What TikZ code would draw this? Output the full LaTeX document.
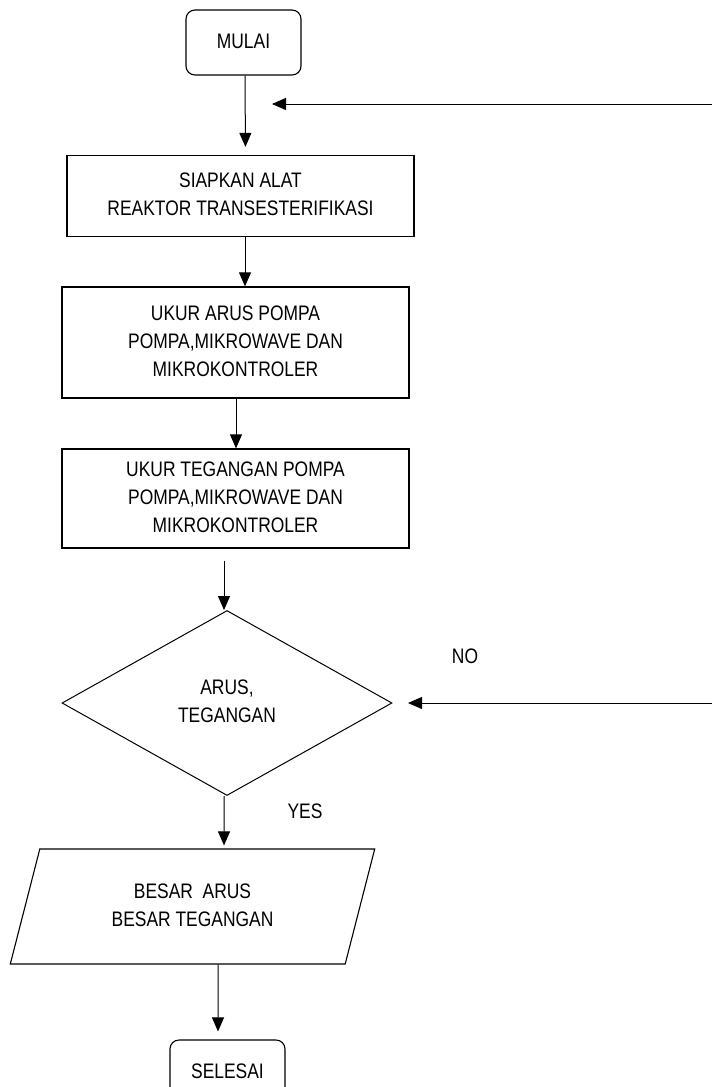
\documentclass[tikz,border=0pt]{standalone}
\usepackage{fontspec}
\usepackage{graphicx}
\setmainfont{Liberation Sans}
\usetikzlibrary{arrows.meta,shapes.geometric,calc}
\newcommand{\nt}[1]{\scalebox{0.83}[1]{\begin{tabular}{@{}c@{}}#1\end{tabular}}}
\begin{document}
\begin{tikzpicture}[x=1pt,y=-1pt,
  every node/.style={font=\fontsize{21}{28}\selectfont},
  procbox/.style={draw,line width=1.3pt,inner sep=0pt},
  termbox/.style={draw,line width=1.1pt,rounded corners=9pt,minimum width=115pt,minimum height=65pt,inner sep=0pt},
  decbox/.style={draw,diamond,line width=1pt,aspect=1.78,minimum width=330pt,minimum height=185pt,inner sep=0pt},
  iobox/.style={draw,trapezium,trapezium left angle=74.4,trapezium right angle=105.6,trapezium stretches=true,line width=1.1pt,minimum width=365pt,minimum height=115pt,inner sep=0pt},
  arr/.style={line width=1pt,-{Triangle[length=14pt,width=12pt]}},
  lbl/.style={inner sep=0pt}]
\useasboundingbox (0,0) rectangle (712,1087);
\clip (0,0) rectangle (712,1087);

\node[termbox] (mulai) at (243.5,42.5) {\nt{MULAI}};
\node[procbox,minimum width=347pt,minimum height=81pt] (box1) at (240.5,196) {\nt{SIAPKAN ALAT\\REAKTOR TRANSESTERIFIKASI}};
\node[procbox,minimum width=347pt,minimum height=111pt] (box2) at (235.5,342.5) {\nt{UKUR ARUS POMPA\\POMPA,MIKROWAVE DAN\\MIKROKONTROLER}};
\node[procbox,minimum width=347pt,minimum height=99pt] (box3) at (235.5,498.5) {\nt{UKUR TEGANGAN POMPA\\POMPA,MIKROWAVE DAN\\MIKROKONTROLER}};
\node[decbox] (dia) at (227,703) {\nt{ARUS,\\TEGANGAN}};
\node[iobox] (para) at (192.5,906.5) {\nt{BESAR\ \ ARUS\\BESAR TEGANGAN}};
\node[termbox] (selesai) at (227.5,1072.5) {\nt{SELESAI}};

\node[lbl] (no) at (465,658) {\nt{NO}};
\node[lbl] (yes) at (305,813) {\nt{YES}};

\coordinate (r1) at (714,104);
\coordinate (r1t) at (272,104);
\coordinate (r2) at (714,703);
\coordinate (r2t) at (408,703);

\draw[arr,shorten >=8pt] ($(mulai.south)+(1.5,0)$) -- ($(box1.north)+(5,0)$);
\draw[arr] ($(box1.south)+(4.5,0)$) -- ($(box2.north)+(9.5,0)$);
\draw[arr] ($(box2.south)+(0.5,0)$) -- ($(box3.north)+(0.5,0)$);
\draw[arr,shorten <=12pt] ($(box3.south)+(-11.5,0)$) -- ($(dia.north)+(-3,0)$);
\draw[arr,shorten >=3pt] ($(dia.south)+(-3,0)$) -- ($(para.north)+(31.5,0)$);
\draw[arr,shorten >=8pt] ($(para.south)+(25.5,0)$) -- ($(selesai.north)+(-9.5,0)$);
\draw[arr] (r1) -- (r1t);
\draw[arr] (r2) -- (r2t);
\end{tikzpicture}
\end{document}
